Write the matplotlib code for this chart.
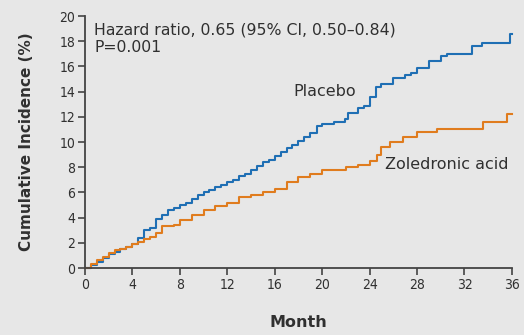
import numpy as np
import matplotlib
matplotlib.use('Agg')
from matplotlib import pyplot as plt

# cumulative incidence (%) read per month, Kaplan-Meier style steps
placebo_month = [0, 0.5, 1, 1.5, 2, 2.5, 3, 3.5, 4, 4.5, 5, 5.5, 6, 6.5, 7, 7.5, 8,
                 8.5, 9, 9.5, 10, 10.5, 11, 11.5, 12, 12.5, 13, 13.5, 14, 14.5, 15,
                 15.5, 16, 16.5, 17, 17.5, 18, 18.5, 19, 19.6, 20, 21, 21.9, 22.2,
                 23, 23.5, 24, 24.5, 25, 26, 27, 27.5, 28, 29, 30, 30.5, 32.6, 33.5,
                 35.8, 36]
placebo_inc = [0, 0.2, 0.5, 0.8, 1.1, 1.3, 1.5, 1.7, 1.9, 2.4, 3.0, 3.2, 3.9, 4.2,
               4.6, 4.8, 5.0, 5.2, 5.5, 5.8, 6.0, 6.2, 6.4, 6.6, 6.8, 7.0, 7.3, 7.5,
               7.8, 8.1, 8.4, 8.6, 8.9, 9.2, 9.5, 9.8, 10.1, 10.4, 10.7, 11.3, 11.4,
               11.6, 11.8, 12.3, 12.7, 12.9, 13.6, 14.4, 14.6, 15.1, 15.3, 15.5,
               15.9, 16.4, 16.8, 17.0, 17.6, 17.9, 18.6, 18.6]

zol_month = [0, 0.5, 1, 1.5, 2, 2.5, 3, 3.5, 4, 4.5, 5, 5.5, 6, 6.5, 7.5, 8, 9, 10,
             11, 12, 13, 14, 15, 16, 17, 18, 19, 20, 22, 23, 24, 24.6, 25, 25.7,
             26.8, 28, 29.7, 33.6, 35.6, 36]
zol_inc = [0, 0.3, 0.6, 0.9, 1.2, 1.4, 1.5, 1.7, 1.9, 2.1, 2.3, 2.5, 2.8, 3.3, 3.4,
           3.8, 4.2, 4.6, 4.9, 5.2, 5.6, 5.8, 6.0, 6.3, 6.8, 7.2, 7.5, 7.8, 8.0,
           8.2, 8.5, 9.0, 9.6, 10.0, 10.4, 10.8, 11.0, 11.6, 12.2, 12.2]

x_ticks = np.arange(0, 37, 4)
y_ticks = np.arange(0, 21, 2)

bg = '#e7e7e7'
ink = '#303030'
plt.rcParams['font.family'] = ['DejaVu Sans']

fig = plt.figure(figsize=(5.24, 3.35), dpi=100, facecolor=bg)
ax = fig.add_axes([0.162, 0.2, 0.815, 0.752], facecolor=bg)

ax.plot(placebo_month, placebo_inc, drawstyle='steps-post', color='#1f6fb4',
        lw=1.5, clip_on=False)
ax.plot(zol_month, zol_inc, drawstyle='steps-post', color='#e07c1e',
        lw=1.5, clip_on=False)

ax.set_xlim(0, 36)
ax.set_ylim(0, 20)
ax.set_xticks(x_ticks)
ax.set_yticks(y_ticks)
for s in ['top', 'right']:
    ax.spines[s].set_visible(False)
for s in ['left', 'bottom']:
    ax.spines[s].set_color('#444444')
    ax.spines[s].set_linewidth(1.3)
ax.tick_params(direction='out', length=5, width=1.2, color='#444444',
               labelsize=10, labelcolor=ink, pad=2)
for lab in ax.get_xticklabels() + ax.get_yticklabels():
    lab.set_fontstretch('condensed')

ax.set_xlabel('Month', fontsize=11.5, fontweight='bold', color=ink, labelpad=17)
ax.set_ylabel('Cumulative Incidence (%)', fontsize=11, fontweight='bold',
              color=ink, labelpad=18)

ax.text(0.8, 19.5, u'Hazard ratio, 0.65 (95% CI, 0.50\u20130.84)\nP=0.001',
        fontsize=11.3, color=ink, va='top', ha='left', linespacing=1.2)
ax.text(20.2, 14.0, 'Placebo', fontsize=11.5, color=ink, va='center', ha='center')
ax.text(30.5, 8.2, 'Zoledronic acid', fontsize=11.5, color=ink, va='center',
        ha='center')

plt.savefig('out.png', dpi=100, facecolor=bg)
